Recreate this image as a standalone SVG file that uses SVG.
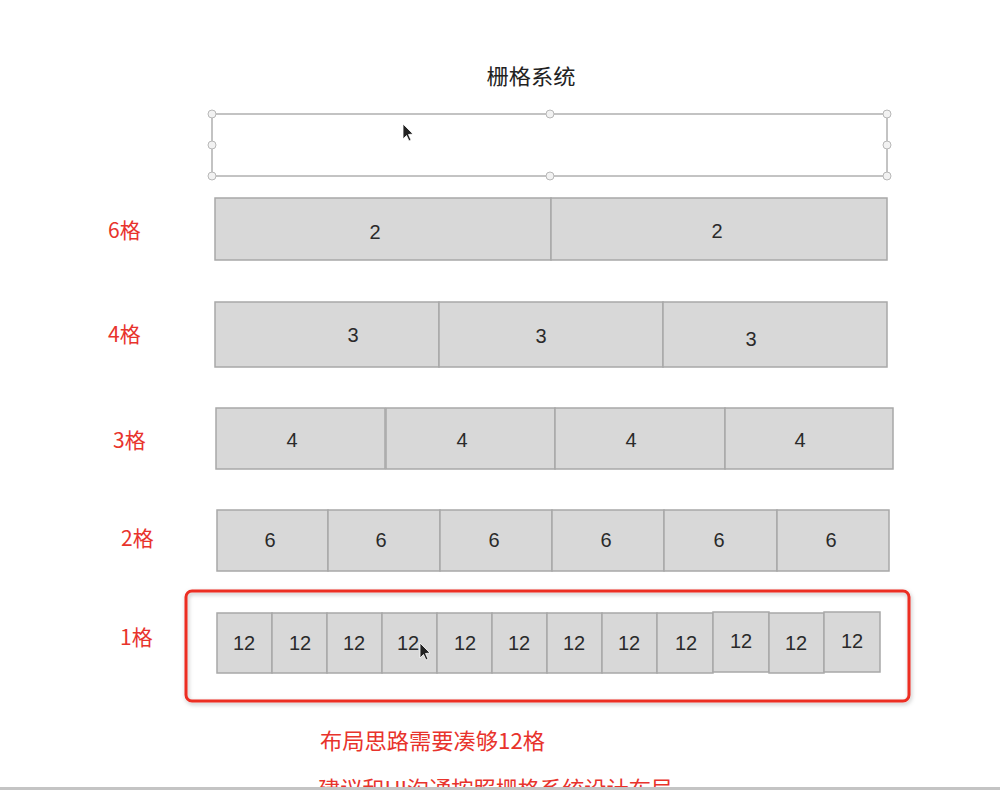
<svg xmlns="http://www.w3.org/2000/svg" width="1000" height="790" viewBox="0 0 1000 790">
<style>
.cell{fill:#d8d8d8;stroke:#a8a8a8;stroke-width:1.5}
.num{font-family:"Liberation Sans",Arial,sans-serif;font-size:20px;fill:#2a2a2a;text-anchor:middle}
.lbl{font-family:"Noto Sans CJK SC","Noto Sans",sans-serif;font-size:21px;fill:#e8332c}
.note{font-family:"Noto Sans CJK SC","Noto Sans",sans-serif;font-size:22px;fill:#e8332c}
.title{font-family:"Noto Sans CJK SC","Noto Sans",sans-serif;font-size:21px;fill:#222;text-anchor:middle}
.handle{fill:#f2f2f2;stroke:#b8b8b8;stroke-width:1}
.cursor{fill:#222;stroke:#fff;stroke-width:0.8}
</style>
<defs>
<filter id="shadow" x="-5%" y="-10%" width="110%" height="125%">
<feDropShadow dx="1" dy="2" stdDeviation="2" flood-color="#000" flood-opacity="0.25"/>
</filter>
</defs>
<rect width="1000" height="790" fill="#fff"/>

<g id="title"><text class="title" x="531" y="84" textLength="89" lengthAdjust="spacingAndGlyphs">栅格系统</text></g>

<g id="selection">
<rect x="212" y="114" width="675" height="62" fill="#fff" stroke="#b0b0b0" stroke-width="1.5"/>
<circle class="handle" cx="212" cy="114" r="4"/><circle class="handle" cx="550" cy="114" r="4"/><circle class="handle" cx="887" cy="114" r="4"/>
<circle class="handle" cx="212" cy="145" r="4"/><circle class="handle" cx="887" cy="145" r="4"/>
<circle class="handle" cx="212" cy="176" r="4"/><circle class="handle" cx="550" cy="176" r="4"/><circle class="handle" cx="887" cy="176" r="4"/>
<path class="cursor" d="M403 124 L403 139 L406.5 135.5 L409 141 L411 140 L408.5 134.5 L413 134 Z"/>
</g>

<g id="row-6">
<text class="lbl" x="108" y="238">6格</text>
<g id="r6-c1"><rect class="cell" x="215" y="198" width="336" height="62"/><text class="num" x="375" y="239">2</text></g>
<g id="r6-c2"><rect class="cell" x="551" y="198" width="336" height="62"/><text class="num" x="717" y="238">2</text></g>
</g>

<g id="row-4">
<text class="lbl" x="108" y="342">4格</text>
<g id="r4-c1"><rect class="cell" x="215" y="302" width="224" height="65"/><text class="num" x="353" y="342">3</text></g>
<g id="r4-c2"><rect class="cell" x="439" y="302" width="224" height="65"/><text class="num" x="541" y="343">3</text></g>
<g id="r4-c3"><rect class="cell" x="663" y="302" width="224" height="65"/><text class="num" x="751" y="346">3</text></g>
</g>

<g id="row-3">
<text class="lbl" x="113" y="448">3格</text>
<g id="r3-c1"><rect class="cell" x="216" y="408" width="169" height="61"/><text class="num" x="292" y="447">4</text></g>
<g id="r3-c2"><rect class="cell" x="386" y="408" width="169" height="61"/><text class="num" x="462" y="447">4</text></g>
<g id="r3-c3"><rect class="cell" x="555" y="408" width="170" height="61"/><text class="num" x="631" y="447">4</text></g>
<g id="r3-c4"><rect class="cell" x="725" y="408" width="168" height="61"/><text class="num" x="800" y="447">4</text></g>
</g>

<g id="row-2">
<text class="lbl" x="121" y="546">2格</text>
<g id="r2-c1"><rect class="cell" x="217" y="510" width="111" height="61"/><text class="num" x="270" y="547">6</text></g>
<g id="r2-c2"><rect class="cell" x="328" y="510" width="112" height="61"/><text class="num" x="381" y="547">6</text></g>
<g id="r2-c3"><rect class="cell" x="440" y="510" width="112" height="61"/><text class="num" x="494" y="547">6</text></g>
<g id="r2-c4"><rect class="cell" x="552" y="510" width="112" height="61"/><text class="num" x="606" y="547">6</text></g>
<g id="r2-c5"><rect class="cell" x="664" y="510" width="113" height="61"/><text class="num" x="719" y="547">6</text></g>
<g id="r2-c6"><rect class="cell" x="777" y="510" width="112" height="61"/><text class="num" x="831" y="547">6</text></g>
</g>

<g id="row-1">
<text class="lbl" x="120" y="645">1格</text>
<rect id="highlight" x="186" y="591" width="723" height="110" rx="6" fill="none" stroke="#ec2d24" stroke-width="3" filter="url(#shadow)"/>
<g id="r1-c1"><rect class="cell" x="217" y="613" width="55" height="60"/><text class="num" x="244" y="650">12</text></g>
<g id="r1-c2"><rect class="cell" x="272" y="613" width="55" height="60"/><text class="num" x="300" y="650">12</text></g>
<g id="r1-c3"><rect class="cell" x="327" y="613" width="55" height="60"/><text class="num" x="354" y="650">12</text></g>
<g id="r1-c4"><rect class="cell" x="382" y="613" width="55" height="60"/><text class="num" x="408" y="650">12</text></g>
<g id="r1-c5"><rect class="cell" x="437" y="613" width="55" height="60"/><text class="num" x="465" y="650">12</text></g>
<g id="r1-c6"><rect class="cell" x="492" y="613" width="55" height="60"/><text class="num" x="519" y="650">12</text></g>
<g id="r1-c7"><rect class="cell" x="547" y="613" width="55" height="60"/><text class="num" x="574" y="650">12</text></g>
<g id="r1-c8"><rect class="cell" x="602" y="613" width="55" height="60"/><text class="num" x="629" y="650">12</text></g>
<g id="r1-c9"><rect class="cell" x="657" y="613" width="56" height="60"/><text class="num" x="686" y="650">12</text></g>
<g id="r1-c10"><rect class="cell" x="713" y="612" width="56" height="60"/><text class="num" x="741" y="648">12</text></g>
<g id="r1-c11"><rect class="cell" x="769" y="613" width="55" height="60"/><text class="num" x="796" y="650">12</text></g>
<g id="r1-c12"><rect class="cell" x="824" y="612" width="56" height="60"/><text class="num" x="852" y="648">12</text></g>
<path class="cursor" d="M420 643 L420 658 L423.5 654.5 L426 660 L428 659 L425.5 653.5 L430 653 Z"/>
</g>

<g id="connectors"/>

<g id="notes">
<text class="note" x="320" y="749" textLength="225" lengthAdjust="spacingAndGlyphs">布局思路需要凑够12格</text>
<text class="note" x="318" y="797" textLength="355" lengthAdjust="spacingAndGlyphs">建议和UI沟通按照栅格系统设计布局</text>
</g>
<rect x="0" y="787" width="1000" height="3" fill="#c4c4c4"/>
</svg>
